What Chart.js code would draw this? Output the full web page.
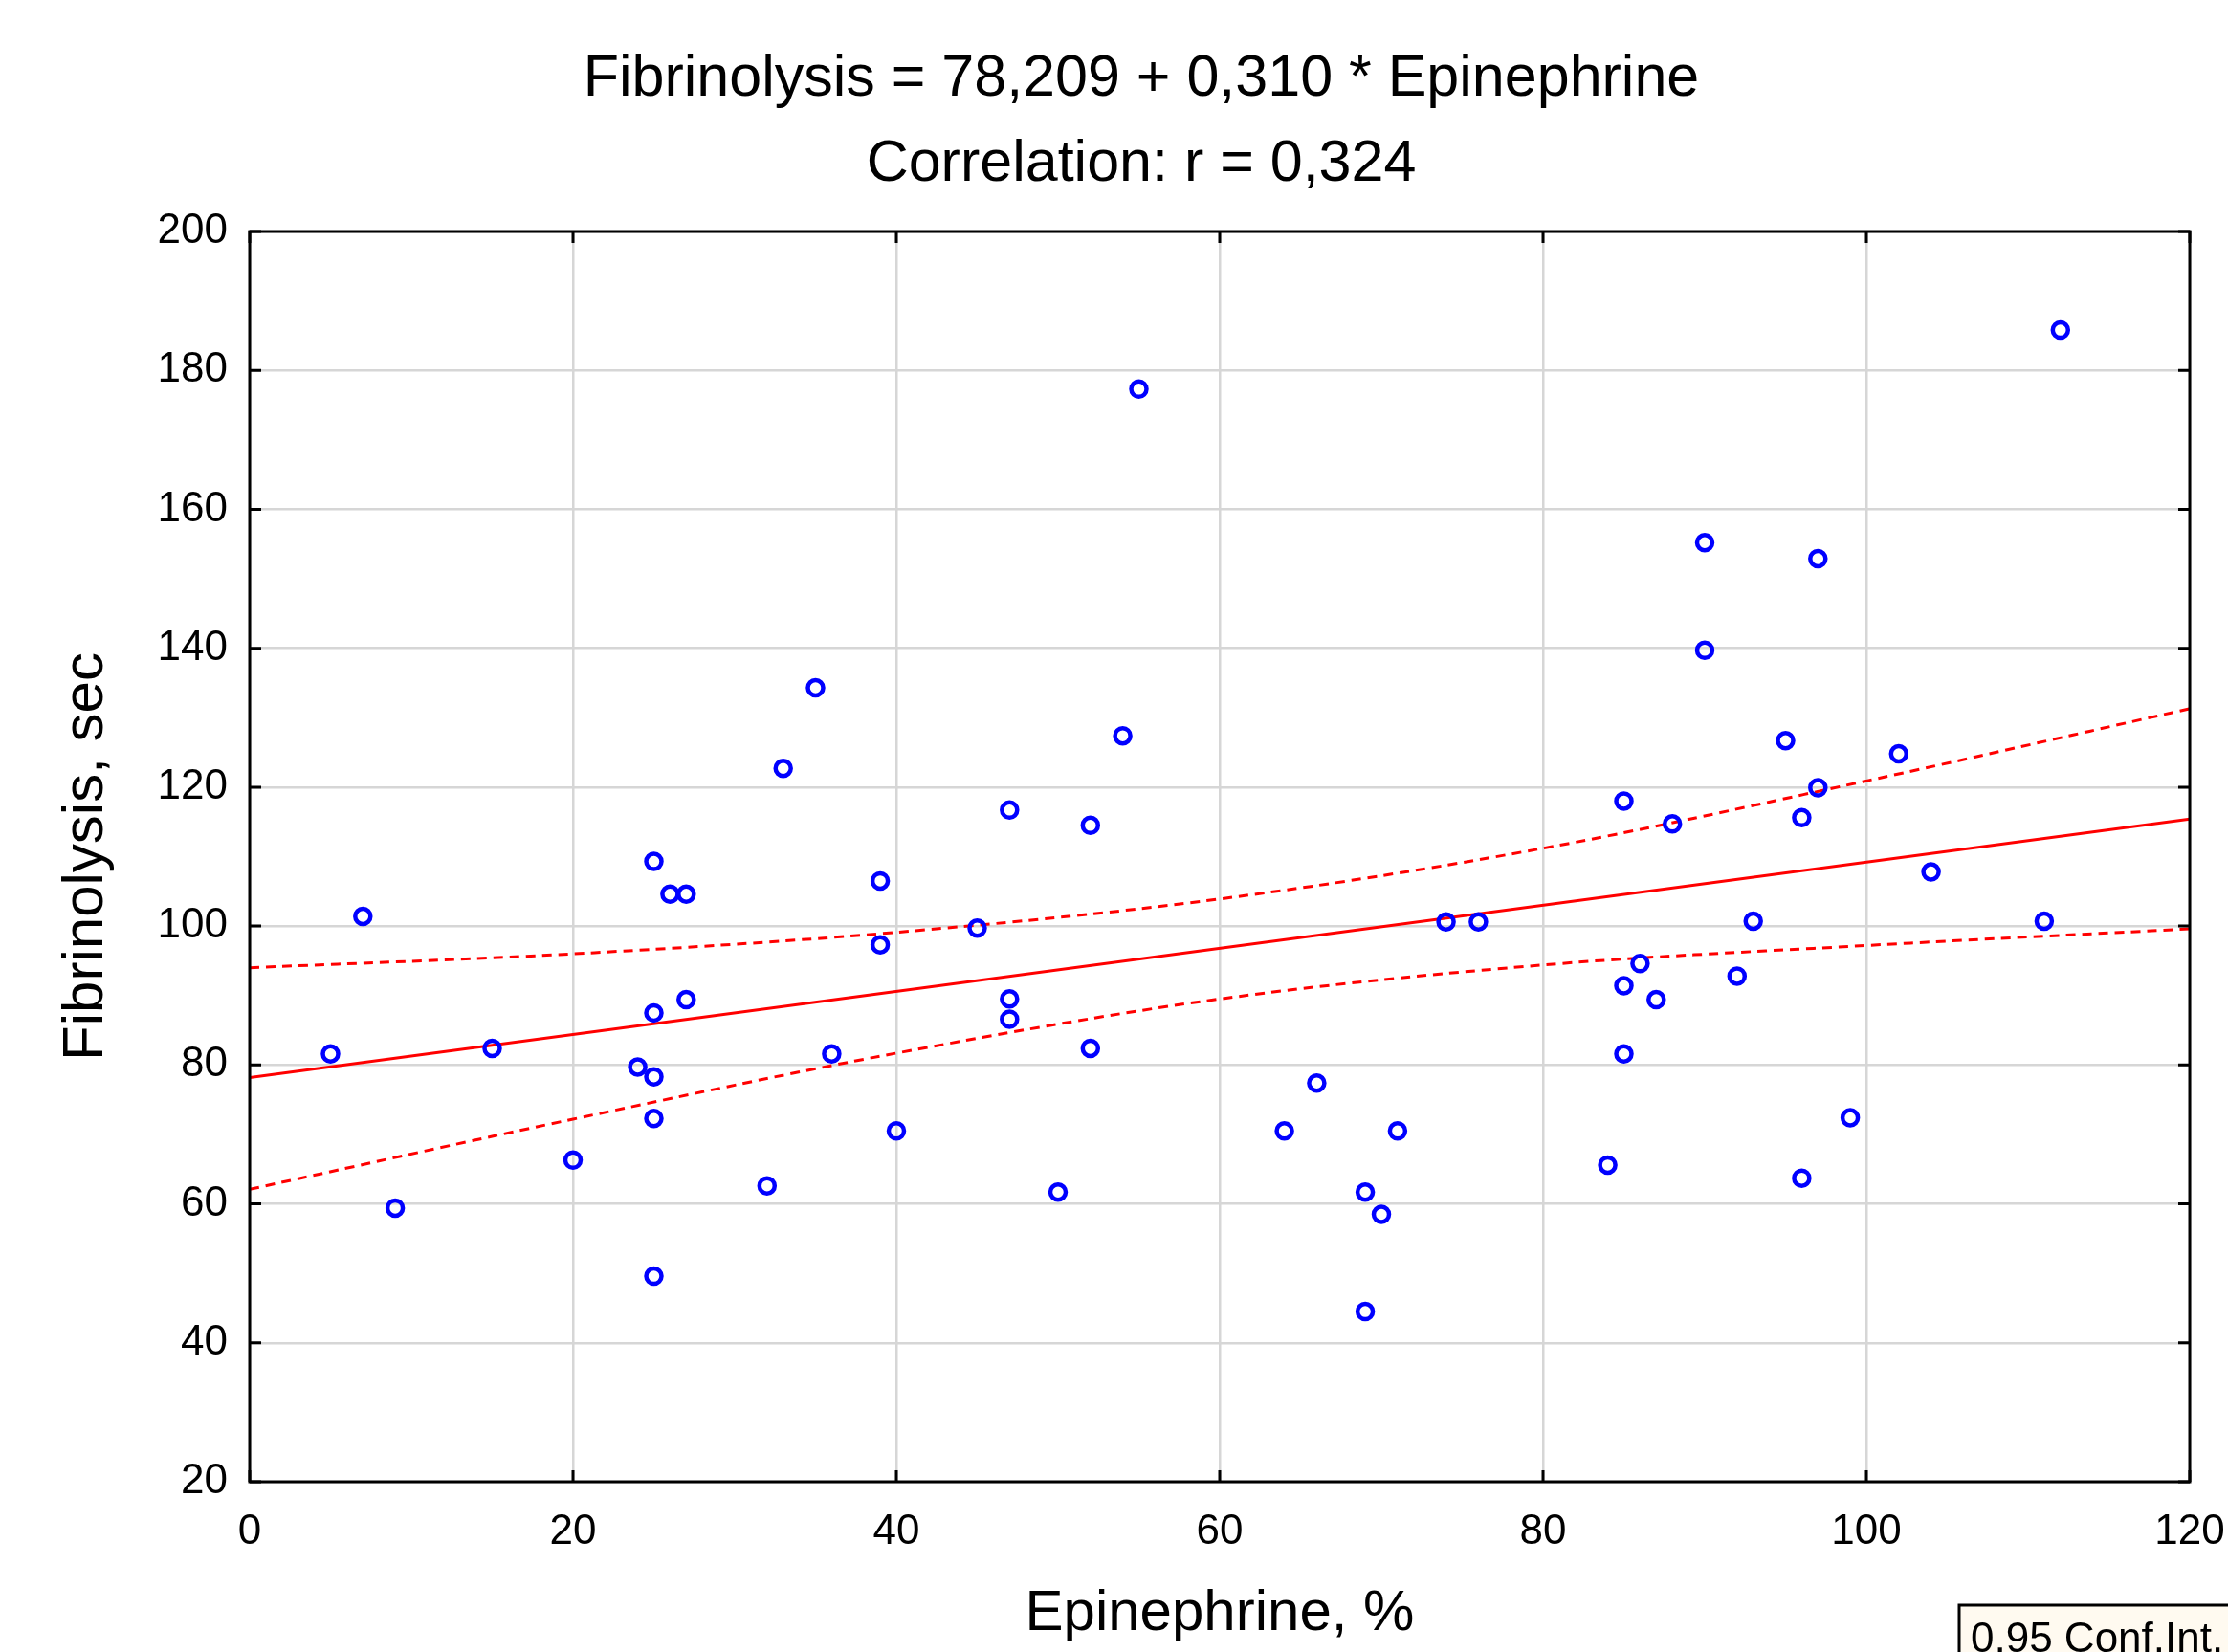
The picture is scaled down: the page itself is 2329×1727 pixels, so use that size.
<!DOCTYPE html>
<html>
<head>
<meta charset="utf-8">
<script src="https://cdn.jsdelivr.net/npm/chart.js@4/dist/chart.umd.min.js"></script>
<style>
    html, body { margin: 0; padding: 0; background: #fff; }
    canvas { display: block; }
</style>
</head>
<body>
<canvas id="scatterChart" width="2329" height="1727"></canvas>
<script>
// values
const epinephrine = [5, 7, 9, 15, 20, 24, 25, 26, 27, 25, 27, 25, 25, 25, 32, 33, 35, 36, 39, 39,
    40, 45, 47, 47, 47, 50, 52, 52, 54, 55, 64, 66, 69, 70, 69, 71, 74, 76, 84, 85,
    85, 85, 86, 87, 88, 90, 90, 92, 93, 95, 96, 96, 97, 97, 99, 102, 104, 111, 112];
const fibrinolysis = [81.6, 101.4, 59.4, 82.4, 66.3, 79.7, 109.3, 104.6, 104.6, 87.5, 89.4, 78.3, 72.3, 49.6, 62.6, 122.7, 134.3, 81.6, 106.5, 97.3,
    70.5, 99.7, 116.7, 89.5, 86.6, 61.7, 114.5, 82.4, 127.4, 177.3, 70.5, 77.4, 61.7, 58.5, 44.5, 70.5, 100.6, 100.6, 65.6, 118.0,
    91.4, 81.6, 94.6, 89.4, 114.7, 155.2, 139.7, 92.8, 100.7, 126.7, 115.6, 63.7, 152.9, 119.9, 72.4, 124.8, 107.8, 100.7, 185.8];

const fitX = [0, 120];
const fitY = [78.2, 115.4];

const bandX = [0, 20, 40, 60, 80, 100, 120];
const upperY = [94.0, 96.0, 99.1, 103.9, 111.2, 120.9, 131.3];
const lowerY = [62.1, 72.2, 81.7, 89.5, 94.4, 97.2, 99.6];

const titleLines = ['Fibrinolysis = 78,209 + 0,310 * Epinephrine', 'Correlation: r = 0,324'];
const legendText = '0,95 Conf.Int.';

const FONT = '"Liberation Sans", Arial, sans-serif';

function toPoints(xs, ys) {
    return xs.map((x, i) => ({ x: x, y: ys[i] }));
}

// two-line heading; sits a bit left of the plot centre in the original
const headingPlugin = {
    id: 'heading',
    afterDraw(chart) {
        const ctx = chart.ctx;
        ctx.save();
        ctx.fillStyle = '#000';
        ctx.font = '61px ' + FONT;
        ctx.textAlign = 'center';
        ctx.textBaseline = 'middle';
        titleLines.forEach((line, i) => ctx.fillText(line, 1193, 83 + i * 89));
        ctx.restore();
    }
};

// frame, inward tick marks and the clipped legend box
const framePlugin = {
    id: 'frame',
    afterDraw(chart) {
        const ctx = chart.ctx;
        const a = chart.chartArea;
        const xs = chart.scales.x, ys = chart.scales.y;
        const tl = 12;
        ctx.save();
        ctx.strokeStyle = '#000';
        ctx.lineWidth = 3;
        ctx.strokeRect(a.left, a.top, a.right - a.left, a.bottom - a.top);

        ctx.beginPath();
        xs.ticks.forEach(t => {
            const px = xs.getPixelForValue(t.value);
            ctx.moveTo(px, a.bottom); ctx.lineTo(px, a.bottom - tl);
            ctx.moveTo(px, a.top); ctx.lineTo(px, a.top + tl);
        });
        ys.ticks.forEach(t => {
            const py = ys.getPixelForValue(t.value);
            ctx.moveTo(a.left, py); ctx.lineTo(a.left + tl, py);
            ctx.moveTo(a.right, py); ctx.lineTo(a.right - tl, py);
        });
        ctx.stroke();

        // legend box, runs off the bottom right corner like the original
        ctx.fillStyle = '#fffaf0';
        ctx.fillRect(2048, 1678, 320, 80);
        ctx.strokeRect(2048, 1678, 320, 80);
        ctx.fillStyle = '#000';
        ctx.font = '44px ' + FONT;
        ctx.textBaseline = 'alphabetic';
        ctx.textAlign = 'left';
        ctx.fillText(legendText, 2060, 1727);
        ctx.restore();
    }
};

const ctx = document.getElementById('scatterChart').getContext('2d');
new Chart(ctx, {
    type: 'scatter',
    data: {
        datasets: [{
            label: 'Fibrinolysis',
            data: toPoints(epinephrine, fibrinolysis),
            pointStyle: 'circle',
            pointRadius: 8,
            pointBorderWidth: 4.5,
            borderWidth: 4.5,
            pointBorderColor: '#0000ff',
            borderColor: '#0000ff',
            pointBackgroundColor: 'rgba(0,0,0,0)',
            backgroundColor: 'rgba(0,0,0,0)'
        }, {
            label: 'Fit',
            data: toPoints(fitX, fitY),
            showLine: true,
            pointRadius: 0,
            borderColor: '#ff0000',
            borderWidth: 3
        }, {
            label: 'Upper 95%',
            data: toPoints(bandX, upperY),
            showLine: true,
            cubicInterpolationMode: 'monotone',
            pointRadius: 0,
            borderColor: '#ff0000',
            borderWidth: 3,
            borderDash: [10, 7]
        }, {
            label: 'Lower 95%',
            data: toPoints(bandX, lowerY),
            showLine: true,
            cubicInterpolationMode: 'monotone',
            pointRadius: 0,
            borderColor: '#ff0000',
            borderWidth: 3,
            borderDash: [10, 7]
        }]
    },
    options: {
        responsive: false,
        devicePixelRatio: 1,
        animation: false,
        layout: { padding: { left: 0, right: 40, top: 242, bottom: 0 } },
        elements: { point: { borderWidth: 4.5, radius: 8 } },
        plugins: {
            legend: { display: false },
            tooltip: { enabled: false },
            title: { display: false }
        },
        scales: {
            x: {
                type: 'linear',
                min: 0,
                max: 120,
                afterFit: s => { s.height = 178; s.paddingLeft = 0; s.paddingRight = 0; },
                ticks: {
                    stepSize: 20,
                    color: '#000',
                    padding: 26,
                    maxRotation: 0,
                    font: { family: FONT, size: 44 }
                },
                grid: { color: '#d6d6d6', lineWidth: 2.5, drawTicks: false },
                border: { display: false },
                title: {
                    display: true,
                    text: 'Epinephrine, %',
                    color: '#000',
                    font: { family: FONT, size: 60 },
                    padding: { top: 0, bottom: 4 }
                }
            },
            y: {
                type: 'linear',
                min: 20,
                max: 200,
                afterFit: s => { s.width = 261; s.paddingTop = 0; s.paddingBottom = 0; },
                ticks: {
                    stepSize: 20,
                    color: '#000',
                    padding: 23,
                    font: { family: FONT, size: 44 }
                },
                grid: { color: '#d6d6d6', lineWidth: 2.5, drawTicks: false },
                border: { display: false },
                title: {
                    display: true,
                    text: 'Fibrinolysis, sec',
                    color: '#000',
                    font: { family: FONT, size: 60 },
                    padding: { top: 54, bottom: 0 }
                }
            }
        }
    },
    plugins: [framePlugin, headingPlugin]
});
</script>
</body>
</html>
